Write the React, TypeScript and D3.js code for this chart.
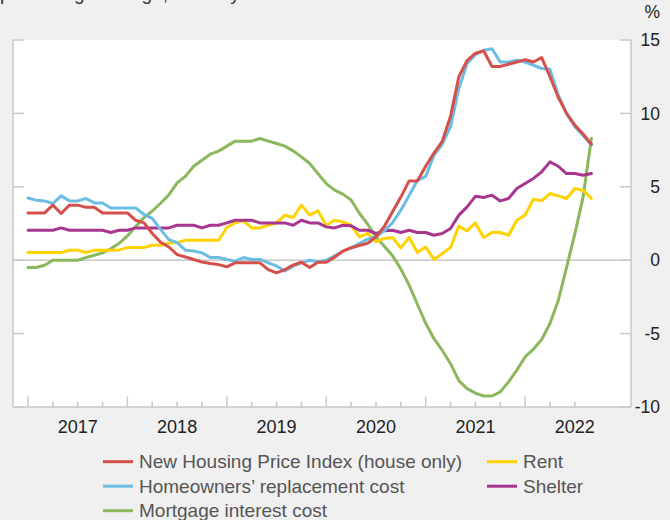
import React from "react";
import * as d3 from "d3";

// Monthly data, Jan 2017 .. Sep 2022 (69 months), year-over-year % change
const startYear = 2017;
const newHousing = [
  3.22, 3.22, 3.22, 3.75, 3.18, 3.75, 3.75, 3.6, 3.6, 3.22, 3.22, 3.22,
  3.22, 2.72, 2.54, 1.82, 1.22, 0.9, 0.38, 0.22, 0.05, -0.12, -0.23, -0.3,
  -0.45, -0.18, -0.18, -0.18, -0.18, -0.64, -0.86, -0.64, -0.34, -0.14, -0.5, -0.14,
  -0.14, 0.2, 0.62, 0.85, 1.0, 1.15, 1.6, 2.3, 3.3, 4.3, 5.4, 5.4,
  6.4, 7.3, 8.1, 9.8, 12.5, 13.6, 14.1, 14.25, 13.2, 13.2, 13.35, 13.5,
  13.65, 13.5, 13.8, 12.5, 11.1, 10.0, 9.2, 8.6, 7.9,
];
const replacementCost = [
  4.24, 4.09, 4.04, 3.86, 4.38, 4.04, 4.04, 4.2, 3.9, 3.9, 3.56, 3.56,
  3.56, 3.56, 3.11, 2.85, 2.1, 1.4, 1.2, 0.68, 0.63, 0.5, 0.18, 0.18,
  0.05, -0.07, 0.18, 0.05, 0.05, -0.18, -0.39, -0.73, -0.41, -0.18, 0.0, -0.11,
  0.0, 0.3, 0.6, 0.82, 1.15, 1.43, 1.6, 2.0, 2.55, 3.4, 4.4, 5.45,
  5.7, 7.15, 7.9, 9.1, 11.7, 13.4, 14.0, 14.3, 14.4, 13.5, 13.5, 13.62,
  13.5, 13.28, 13.06, 13.0, 11.24, 10.0, 9.1, 8.5, 7.85,
];
const mortgageInterest = [
  -0.5, -0.5, -0.34, 0.0, 0.0, 0.0, 0.0, 0.18, 0.34, 0.5, 0.78, 1.15,
  1.65, 2.3, 2.9, 3.35, 3.88, 4.45, 5.27, 5.72, 6.4, 6.81, 7.22, 7.43,
  7.77, 8.11, 8.11, 8.11, 8.29, 8.11, 7.95, 7.77, 7.45, 7.04, 6.59, 5.9,
  5.22, 4.77, 4.5, 4.1, 3.2, 2.45, 1.6, 0.95, 0.3, -0.6, -1.7, -3.0,
  -4.3, -5.35, -6.15, -7.05, -8.2, -8.75, -9.05, -9.25, -9.25, -8.97, -8.29, -7.49,
  -6.59, -6.06, -5.4, -4.31, -2.75, -0.5, 1.8, 4.3, 8.3,
];
const rent = [
  0.52, 0.52, 0.52, 0.52, 0.52, 0.68, 0.68, 0.52, 0.68, 0.68, 0.68, 0.7,
  0.86, 0.86, 0.86, 1.02, 1.02, 1.18, 1.2, 1.36, 1.36, 1.36, 1.36, 1.36,
  2.23, 2.54, 2.68, 2.2, 2.2, 2.38, 2.54, 3.07, 2.91, 3.75, 3.07, 3.36,
  2.38, 2.72, 2.61, 2.38, 1.59, 1.82, 1.25, 1.48, 1.55, 0.84, 1.55, 0.52,
  0.9, 0.05, 0.45, 0.86, 2.32, 2.0, 2.54, 1.55, 1.89, 1.89, 1.7, 2.72,
  3.07, 4.15, 4.04, 4.54, 4.38, 4.2, 4.88, 4.77, 4.2,
];
const shelter = [
  2.04, 2.04, 2.04, 2.04, 2.2, 2.04, 2.04, 2.04, 2.04, 2.04, 1.89, 2.04,
  2.04, 2.2, 2.2, 2.2, 2.2, 2.2, 2.38, 2.38, 2.38, 2.2, 2.38, 2.38,
  2.54, 2.72, 2.72, 2.72, 2.54, 2.54, 2.54, 2.54, 2.38, 2.72, 2.54, 2.54,
  2.27, 2.2, 2.38, 2.34, 2.04, 2.04, 1.82, 2.0, 2.04, 1.89, 2.04, 1.89,
  1.89, 1.7, 1.82, 2.16, 3.07, 3.63, 4.35, 4.27, 4.43, 4.04, 4.2, 4.88,
  5.22, 5.57, 6.02, 6.7, 6.4, 5.9, 5.9, 5.79, 5.9,
];

const yearLabels = ["2017", "2018", "2019", "2020", "2021", "2022"];
const yTicks = [15, 10, 5, 0, -5, -10];

const seriesNames = [
  "New Housing Price Index (house only)",
  "Homeowners\u2019 replacement cost",
  "Mortgage interest cost",
  "Rent",
  "Shelter",
];
const seriesColors = ["#d6504a", "#6bbde4", "#8ab85c", "#ffd200", "#a6368f"];
const seriesData = [newHousing, replacementCost, mortgageInterest, rent, shelter];

export default function App() {
  const W = 670;
  const H = 520;
  const left = 13;
  const right = 631;
  const top = 40;
  const bottom = 407;

  const x = d3.scaleLinear().domain([-1.81, 72.78]).range([left, right]);
  const y = d3.scaleLinear().domain([-10, 15]).range([bottom, top]);

  const line = d3
    .line<number>()
    .x((_, i) => x(i))
    .y((d) => y(d));

  const axisColor = "#c8c8c8";
  const font = "'Liberation Sans', Arial, Helvetica, sans-serif";

  const quarterTicks = d3.range(0, newHousing.length, 3);

  const legendRows = [
    { idx: 0, col: 0, row: 0 },
    { idx: 1, col: 0, row: 1 },
    { idx: 2, col: 0, row: 2 },
    { idx: 3, col: 1, row: 0 },
    { idx: 4, col: 1, row: 1 },
  ];
  const legendX = [103, 487];
  const legendY0 = 461.7;
  const legendDy = 24.5;

  return (
    <svg
      width={W}
      height={H}
      style={{ position: "absolute", left: 0, top: 0, display: "block" }}
      fontFamily={font}
    >
      <rect x={0} y={0} width={W} height={H} fill="#f0f0f0" />
      <text x={0} y={0} fontSize={19} fill="#333">
        percentage change, monthly
      </text>
      <rect x={left} y={top} width={right - left} height={bottom - top} fill="#ffffff" />

      {/* zero line */}
      <line x1={left} x2={right} y1={y(0)} y2={y(0)} stroke={axisColor} strokeWidth={1.5} />

      {/* frame: left, right, bottom */}
      <line x1={left} x2={left} y1={top} y2={bottom} stroke={axisColor} strokeWidth={1.5} />
      <line x1={right} x2={right} y1={top} y2={bottom} stroke={axisColor} strokeWidth={1.5} />
      <line x1={left} x2={right} y1={bottom} y2={bottom} stroke={axisColor} strokeWidth={1.5} />

      {/* y ticks */}
      {yTicks.map((t) => (
        <g key={"yt" + t}>
          <line x1={left} x2={left + 11} y1={y(t)} y2={y(t)} stroke={axisColor} strokeWidth={1.5} />
          <line x1={right - 11} x2={right} y1={y(t)} y2={y(t)} stroke={axisColor} strokeWidth={1.5} />
          <text
            x={660}
            y={y(t)}
            dy="0.35em"
            textAnchor="end"
            fontSize={17.5}
            fill="#222"
          >
            {t}
          </text>
        </g>
      ))}
      <text x={660} y={18} textAnchor="end" fontSize={17.5} fill="#222">
        %
      </text>

      {/* x ticks */}
      {quarterTicks.map((m) => (
        <line
          key={"xt" + m}
          x1={x(m)}
          x2={x(m)}
          y1={bottom}
          y2={m % 12 === 0 ? bottom - 10.5 : bottom - 5.5}
          stroke={axisColor}
          strokeWidth={1.5}
        />
      ))}
      {yearLabels.map((lab, k) => (
        <text key={lab} x={x(6 + 12 * k)} y={433} textAnchor="middle" fontSize={18} fill="#222">
          {lab}
        </text>
      ))}

      {/* series */}
      <g fill="none" strokeWidth={3} strokeLinejoin="round" strokeLinecap="round">
        {[2, 3, 4, 1, 0].map((s) => (
          <path key={"s" + s} d={line(seriesData[s]) || ""} stroke={seriesColors[s]} />
        ))}
      </g>

      {/* legend */}
      {legendRows.map(({ idx, col, row }) => {
        const ly = legendY0 + row * legendDy;
        const lx = legendX[col];
        return (
          <g key={"lg" + idx}>
            <line x1={lx} x2={lx + 30} y1={ly} y2={ly} stroke={seriesColors[idx]} strokeWidth={3} />
            <text x={lx + 36} y={ly + 6.5} fontSize={19} fill="#555">
              {seriesNames[idx]}
            </text>
          </g>
        );
      })}
    </svg>
  );
}
